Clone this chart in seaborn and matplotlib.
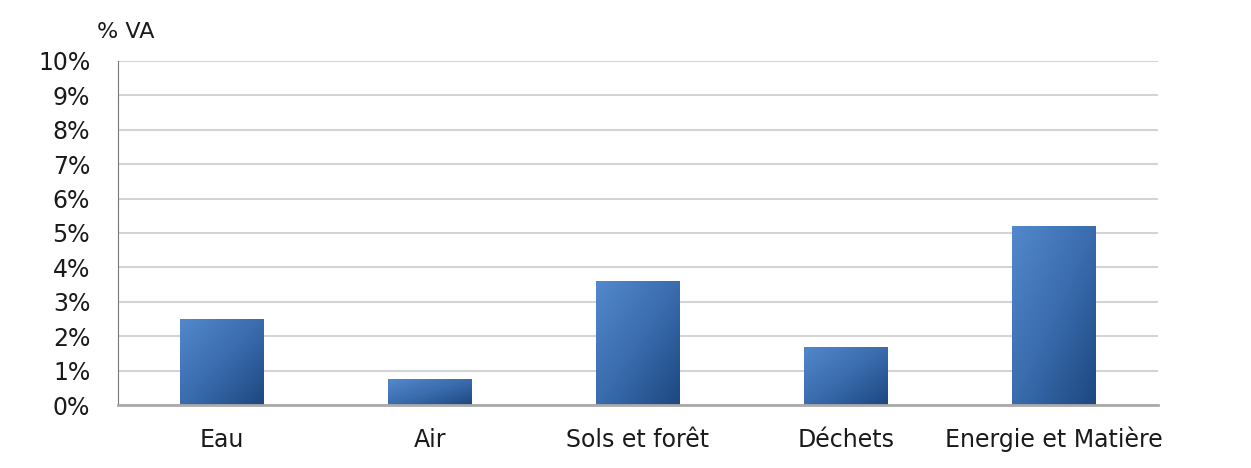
import numpy as np
import matplotlib
matplotlib.use("Agg")
import matplotlib.pyplot as plt
from matplotlib.colors import LinearSegmentedColormap
import seaborn as sns

categories = ["Eau", "Air", "Sols et forêt", "Déchets", "Energie et Matière"]
values = [2.5, 0.75, 3.6, 1.7, 5.2]

sns.set_style("white")
plt.rcParams['font.family'] = ['DejaVu Sans']

fig = plt.figure(figsize=(12.51, 4.68), dpi=100)
ax = fig.add_axes([0.0943, 0.1346, 0.8314, 0.7351])

sns.barplot(x=categories, y=values, color="#3a6fb0", width=0.4, ax=ax,
            saturation=1, edgecolor="none")

# diagonal gradient on each bar, like the spreadsheet original
cmap = LinearSegmentedColormap.from_list("bar", ["#5288cc", "#3a6cae", "#1d4880"])
grad = np.add.outer(np.linspace(0, 1, 50), np.linspace(0, 1, 50)) / 2
for patch in ax.patches:
    x0, y0 = patch.get_x(), patch.get_y()
    w, h = patch.get_width(), patch.get_height()
    im = ax.imshow(grad, cmap=cmap, extent=[x0, x0 + w, y0, y0 + h],
                   origin="upper", aspect="auto", zorder=patch.get_zorder())
    im.set_clip_path(patch)

ax.set_xlim(-0.5, len(categories) - 0.5)
ax.set_ylim(0, 10)
ax.set_yticks(range(0, 11))
ax.set_yticklabels([f"{i}%" for i in range(0, 11)], fontsize=17, color="#1a1a1a")
ax.set_xticks(range(len(categories)))
ax.set_xticklabels(categories, fontsize=17, color="#1a1a1a")
for lbl in ax.get_xticklabels():
    lbl.set_va("baseline")
ax.tick_params(axis="x", length=0, pad=30)
ax.set_xticks(np.arange(-0.5, len(categories), 1.0), minor=True)
ax.tick_params(axis="x", which="minor", length=6, width=1, color="#777777", direction="out")
ax.tick_params(axis="y", length=6, width=1, color="#777777", direction="out", pad=14)

ax.grid(axis="y", color="#d4d4d4", linewidth=1.5)
ax.set_axisbelow(True)
for s in ["top", "right"]:
    ax.spines[s].set_visible(False)
ax.spines["left"].set_color("#777777")
ax.spines["bottom"].set_color("#aaaaaa")
ax.spines["bottom"].set_linewidth(2)
ax.set_xlabel("")
ax.set_ylabel("")

fig.text(97 / 1251, 1 - 32 / 468, "% VA", fontsize=16, color="#1a1a1a", va="center")

fig.savefig("out.png", dpi=100)
